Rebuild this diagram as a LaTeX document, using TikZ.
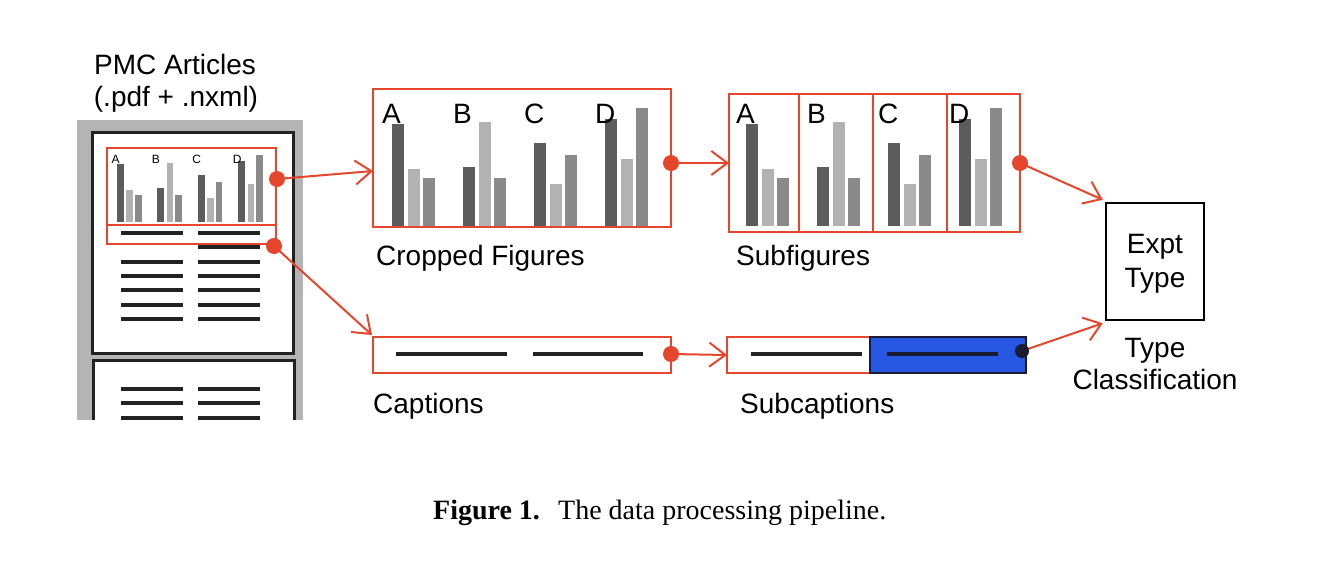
\documentclass[tikz,border=0pt]{standalone}
\usepackage{fontspec}
\setmainfont{Liberation Sans}
\newfontfamily\capserif{Liberation Serif}
\usetikzlibrary{arrows.meta}
\definecolor{redline}{HTML}{E5462C}
\definecolor{bardark}{HTML}{5C5C5C}
\definecolor{barlight}{HTML}{B2B2B2}
\definecolor{barmid}{HTML}{8A8A8A}
\definecolor{pagegray}{HTML}{B4B4B4}
\definecolor{inkline}{HTML}{222222}
\definecolor{subblue}{HTML}{2557E3}
\definecolor{navydot}{HTML}{1A1A30}
% #1 x of first dark bar, #2 bottom y, #3 scale, #4 font size, #5 name prefix
\newcommand{\drawbars}[5]{%
  \foreach \g/\L/\ha/\hb/\hc in {0/A/102/57/48,1/B/59/104/48,2/C/83/42/71,3/D/107/67/118}{%
    \fill[bardark] ({#1+\g*71*#3},#2) rectangle +({12*#3},{-\ha*#3});
    \fill[barlight] ({#1+(\g*71+16)*#3},#2) rectangle +({12*#3},{-\hb*#3});
    \fill[barmid] ({#1+(\g*71+31)*#3},#2) rectangle +({12*#3},{-\hc*#3});
    \node[anchor=base west, inner sep=0, font=\fontsize{#4}{#4}\selectfont] (#5\L) at ({#1+(\g*71-10)*#3},{#2-103*#3}) {\L};
  }%
}
\begin{document}
\begin{tikzpicture}[x=1pt,y=-1pt,
  redbox/.style={draw=redline, line width=2.5pt, inner sep=0, outer sep=0},
  reddot/.style={circle, fill=redline, inner sep=0, minimum size=16pt},
  flow/.style={draw=redline, line width=2pt, -{Straight Barb[length=16pt,width=24pt,line width=2pt]}},
  textline/.style={draw=inkline, line width=3.5pt},
  lbl/.style={font=\fontsize{28}{32}\selectfont, inner sep=0},
]
\useasboundingbox (0,0) rectangle (1342,560);

% ---------- document ----------
\fill[pagegray] (77,120) rectangle (303,420);
\node[draw=inkline, fill=white, line width=3pt, minimum width=201pt, minimum height=221pt, inner sep=0] (page1) at (192.5,242.5) {};
\fill[white] (93,360) rectangle (294,420);
\draw[inkline, line width=3pt] (93,420) -- (93,360) -- (294,360) -- (294,420);
\foreach \yy in {233,262,276,290,305,319,389,403,418}{
  \draw[textline] (121,\yy) -- (183,\yy);
  \draw[textline] (198,\yy) -- (260,\yy);
}
\draw[textline] (198,247) -- (260,247);
\drawbars{117}{222}{0.57}{12}{m}
\node[redbox, minimum width=169pt, minimum height=77pt] (docfig) at (191.5,186.5) {};
\node[redbox, minimum width=169pt, minimum height=19pt] (doccap) at (191.5,234.5) {};
\node[lbl, anchor=base] (pmc1) at (175,74) {PMC Articles};
\node[lbl, anchor=base] (pmc2) at (176,106) {(.pdf + .nxml)};

% ---------- cropped figures ----------
\drawbars{392}{226}{1}{28}{c}
\node[redbox, minimum width=298pt, minimum height=138pt] (crop) at (522,158) {};
\node[lbl, anchor=base west] (croplbl) at (376,265) {Cropped Figures};

% ---------- subfigures ----------
\drawbars{746}{226}{1}{28}{s}
\node[redbox, minimum width=291pt, minimum height=138pt] (subfig) at (874.5,163) {};
\foreach \xx in {799,873,947}{
  \draw[redline, line width=2.5pt] (\xx,94) -- (\xx,232);
}
\node[lbl, anchor=base west] (subfiglbl) at (736,265) {Subfigures};

% ---------- captions ----------
\node[redbox, minimum width=298pt, minimum height=36pt] (cap) at (522,355) {};
\draw[textline, line width=4pt] (396,354) -- (507,354);
\draw[textline, line width=4pt] (533,354) -- (643,354);
\node[lbl, anchor=base west] (caplbl) at (373,413) {Captions};

% ---------- subcaptions ----------
\node[redbox, minimum width=299pt, minimum height=36pt] (subcap) at (876.5,355) {};
\node[draw=navydot, fill=subblue, line width=2pt, minimum width=156pt, minimum height=36pt, inner sep=0] (subblue) at (948,355) {};
\draw[textline, line width=4pt] (751,354) -- (862,354);
\draw[draw=navydot, line width=4pt] (887,354) -- (998,354);
\node[lbl, anchor=base west] (subcaplbl) at (740,413) {Subcaptions};

% ---------- classification ----------
\node[draw=black, line width=2.5pt, minimum width=98pt, minimum height=117pt, inner sep=0] (expt) at (1155,261.5) {};
\node[lbl, anchor=base] (expt1) at (1155,253) {Expt};
\node[lbl, anchor=base] (expt2) at (1155,287) {Type};
\node[lbl, anchor=base] (cls1) at (1155,357) {Type};
\node[lbl, anchor=base] (cls2) at (1155,389) {Classification};

% ---------- dots ----------
\coordinate (d1) at (277,179);
\coordinate (d2) at (274,246);
\coordinate (d3) at (671,163);
\coordinate (d4) at (1020,163);
\coordinate (d5) at (671,354);
\coordinate (d6) at (1022,351);

% ---------- connectors ----------
\draw[flow] (d1) -- ([yshift=-13pt]crop.west);
\draw[flow] (d2) -- ([xshift=-1pt,yshift=2pt]cap.north west);
\draw[flow] (d3) -- (subfig.west);
\draw[flow] (d5) -- (subcap.west);
\draw[flow] (d4) -- ([xshift=-2pt,yshift=2pt]expt.north west);
\draw[flow] (d6) -- ([xshift=-2pt,yshift=-2pt]expt.south west);

\node[reddot] (dot1) at (d1) {};
\node[reddot] (dot2) at (d2) {};
\node[reddot] (dot3) at (d3) {};
\node[reddot] (dot4) at (d4) {};
\node[reddot] (dot5) at (d5) {};
\node[circle, fill=navydot, inner sep=0, minimum size=14pt] (dot6) at (d6) {};

% ---------- caption ----------
\node[anchor=base west, inner sep=0, font=\capserif\fontsize{28}{32}\selectfont] (figcap) at (433,519) {\textbf{Figure 1.}\hspace{0.65em}The data processing pipeline.};
\end{tikzpicture}
\end{document}
